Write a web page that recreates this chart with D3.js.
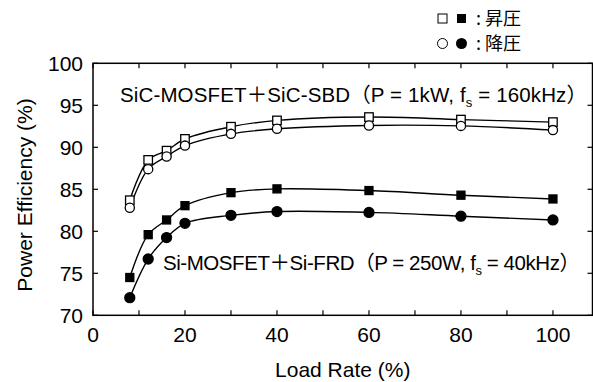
<!DOCTYPE html>
<html lang="ja">
<head>
<meta charset="utf-8">
<title>Power Efficiency vs Load Rate</title>
<script src="https://cdn.jsdelivr.net/npm/d3@7"></script>
<style>
  body { margin: 0; background: #fff; }
  svg { display: block; }
  text { font-family: "Liberation Sans", Arial, "Noto Sans CJK JP", sans-serif; fill: #000; }
</style>
</head>
<body>
<div id="chart"></div>
<script>
// load rate (%) for every measured point
const loadRate = [8, 12, 16, 20, 30, 40, 60, 80, 100];

// SiC-MOSFET + SiC-SBD
const sicBoost = [83.7, 88.5, 89.6, 91.0, 92.45, 93.2, 93.6, 93.3, 93.0];
const sicBuck  = [82.8, 87.4, 88.9, 90.2, 91.6, 92.2, 92.6, 92.55, 92.05];

// Si-MOSFET + Si-FRD
const siBoost = [74.5, 79.6, 81.35, 83.05, 84.6, 85.05, 84.85, 84.3, 83.85];
const siBuck  = [72.1, 76.7, 79.25, 80.95, 81.9, 82.35, 82.25, 81.8, 81.35];

const xTicks = [0, 20, 40, 60, 80, 100];
const xMinor = [10, 30, 50, 70, 90];
const yTicks = [70, 75, 80, 85, 90, 95, 100];

const W = 593, H = 382;
const svg = d3.select("#chart").append("svg").attr("width", W).attr("height", H);

// plot area
const x = d3.scaleLinear().domain([0, 108.6]).range([93, 592.5]);
const y = d3.scaleLinear().domain([70, 100]).range([315.3, 63.3]);

const series = [
  { vals: sicBoost, shape: "square", filled: false },
  { vals: sicBuck,  shape: "circle", filled: false },
  { vals: siBoost,  shape: "square", filled: true },
  { vals: siBuck,   shape: "circle", filled: true }
];

// frame + ticks
svg.append("rect")
  .attr("x", x.range()[0]).attr("y", y.range()[1])
  .attr("width", x.range()[1] - x.range()[0])
  .attr("height", y.range()[0] - y.range()[1])
  .attr("fill", "none").attr("stroke", "#000").attr("stroke-width", 1.5);

const tk = svg.append("g").attr("stroke", "#000").attr("stroke-width", 1.2);
xTicks.concat(xMinor).forEach(v => {
  tk.append("line").attr("x1", x(v)).attr("x2", x(v))
    .attr("y1", y(70)).attr("y2", y(70) - 5);
  tk.append("line").attr("x1", x(v)).attr("x2", x(v))
    .attr("y1", y(100)).attr("y2", y(100) + 5);
});
yTicks.forEach(v => {
  tk.append("line").attr("x1", x(0)).attr("x2", x(0) + 5)
    .attr("y1", y(v)).attr("y2", y(v));
  tk.append("line").attr("x1", x.range()[1]).attr("x2", x.range()[1] - 5)
    .attr("y1", y(v)).attr("y2", y(v));
});

// tick labels
svg.append("g").selectAll("text").data(xTicks).join("text")
  .attr("x", d => x(d)).attr("y", 342)
  .attr("text-anchor", "middle").attr("font-size", 21)
  .text(d => d);

svg.append("g").selectAll("text").data(yTicks).join("text")
  .attr("x", 83).attr("y", d => y(d) + 7.5)
  .attr("text-anchor", "end").attr("font-size", 21)
  .text(d => d);

// axis titles
svg.append("text")
  .attr("x", (x.range()[0] + x.range()[1]) / 2).attr("y", 377)
  .attr("text-anchor", "middle").attr("font-size", 21)
  .text("Load Rate (%)");

svg.append("text")
  .attr("transform", "translate(32,195) rotate(-90)")
  .attr("text-anchor", "middle").attr("font-size", 21)
  .text("Power Efficiency (%)");

// curves
const line = d3.line()
  .x((d, i) => x(loadRate[i]))
  .y(d => y(d))
  .curve(d3.curveCatmullRom.alpha(0.5));

series.forEach(s => {
  svg.append("path")
    .attr("d", line(s.vals))
    .attr("fill", "none").attr("stroke", "#000").attr("stroke-width", 1.4);
});

// markers
series.forEach(s => {
  const g = svg.append("g");
  s.vals.forEach((v, i) => {
    if (s.shape === "square") {
      const sz = s.filled ? 8 : 8.5;
      g.append("rect")
        .attr("x", x(loadRate[i]) - sz / 2).attr("y", y(v) - sz / 2)
        .attr("width", sz).attr("height", sz)
        .attr("fill", s.filled ? "#000" : "#fff")
        .attr("stroke", "#000").attr("stroke-width", 1.3);
    } else {
      g.append("circle")
        .attr("cx", x(loadRate[i])).attr("cy", y(v))
        .attr("r", s.filled ? 5 : 4.6)
        .attr("fill", s.filled ? "#000" : "#fff")
        .attr("stroke", "#000").attr("stroke-width", 1.3);
    }
  });
});

// annotations (stretched to the reference text width)
function label(tx, ty, len, main, tail) {
  const t = svg.append("text").attr("x", tx).attr("y", ty).attr("font-size", 20.5)
    .attr("textLength", len).attr("lengthAdjust", "spacing");
  t.append("tspan").text(main);
  t.append("tspan").attr("font-size", 13).attr("dy", 5).text("s");
  t.append("tspan").attr("dy", -5).text(tail);
}
label(120, 102, 467, "SiC-MOSFET＋SiC-SBD（P = 1kW, f", " = 160kHz）");
label(163, 270, 417, "Si-MOSFET＋Si-FRD（P = 250W, f", " = 40kHz）");

// legend
const lg = svg.append("g");
lg.append("rect").attr("x", 438).attr("y", 14).attr("width", 9).attr("height", 9)
  .attr("fill", "#fff").attr("stroke", "#000").attr("stroke-width", 1);
lg.append("rect").attr("x", 457).attr("y", 14).attr("width", 9).attr("height", 9)
  .attr("fill", "#000");
lg.append("circle").attr("cx", 442.5).attr("cy", 43.5).attr("r", 5)
  .attr("fill", "#fff").attr("stroke", "#000").attr("stroke-width", 1);
lg.append("circle").attr("cx", 461.5).attr("cy", 43.5).attr("r", 5.5)
  .attr("fill", "#000");
lg.append("text").attr("x", 476).attr("y", 25).attr("font-size", 18)
  .style("font-family", "'Noto Sans CJK JP', sans-serif").text(": 昇圧");
lg.append("text").attr("x", 476).attr("y", 50).attr("font-size", 18)
  .style("font-family", "'Noto Sans CJK JP', sans-serif").text(": 降圧");
</script>
</body>
</html>
